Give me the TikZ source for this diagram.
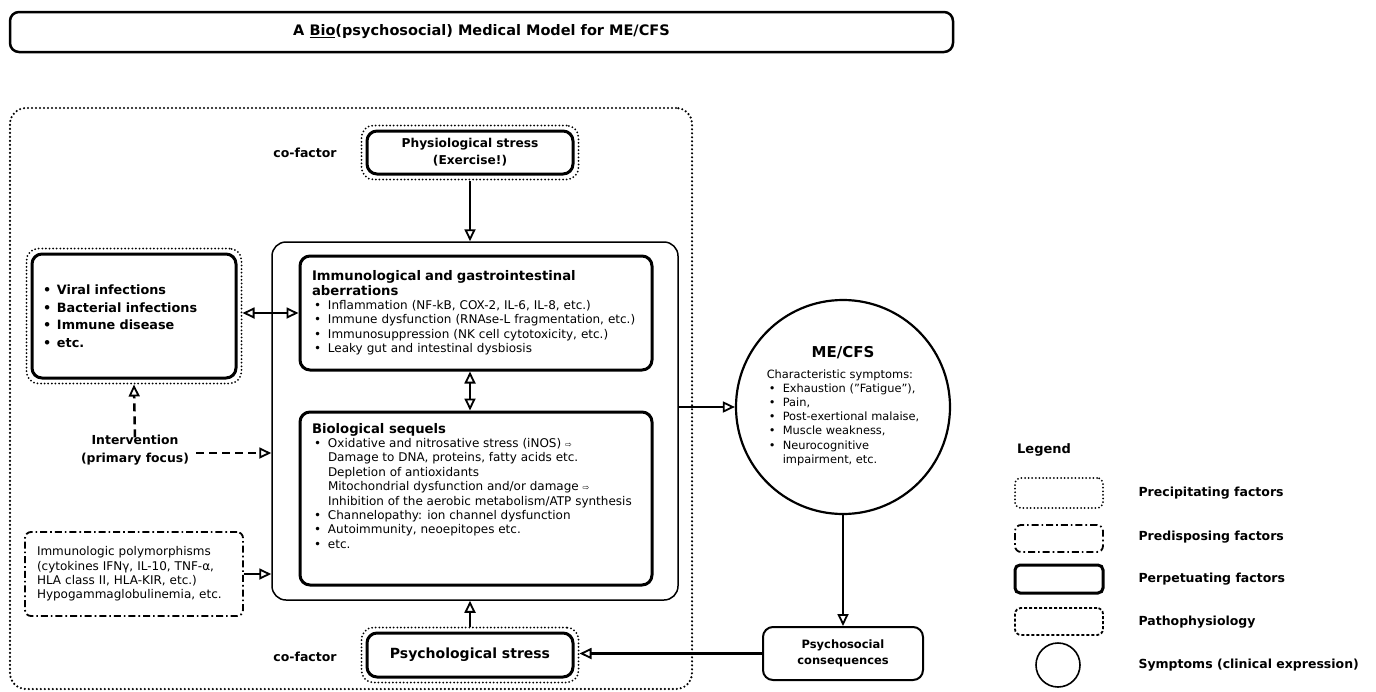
\documentclass[tikz,border=0pt]{standalone}
\usepackage{fontspec}
\setmainfont{DejaVu Sans}
\usetikzlibrary{arrows.meta,shapes,positioning,fit,calc}
\newcommand\bul{\makebox[16pt][l]{\hspace{2pt}\textbullet}}
\newcommand\ind{\hspace*{16pt}}
\newcommand\hollow{{\footnotesize ⇨}}
\tikzset{
  txt/.style={font=\fontsize{12}{14.4}\selectfont},
  head/.style={font=\fontsize{12.5}{17}\selectfont\bfseries},
  perp/.style={draw,line width=3pt,rounded corners=10pt,align=left},
  precip/.style={draw,line width=2pt,line cap=round,dash pattern=on 0pt off 3.6pt,rounded corners=12pt,inner sep=4pt},
  predisp/.style={draw,line width=1.8pt,dash pattern=on 7pt off 3pt on 1.6pt off 3pt,rounded corners=6pt},
  patho/.style={draw,line width=1.8pt,dash pattern=on 3pt off 2pt,rounded corners=6pt},
  flow/.style={line width=2.5pt,-{Triangle[open,length=12pt,width=11pt,line width=1.8pt]}},
  both/.style={line width=2.5pt,{Triangle[open,length=12pt,width=11pt,line width=1.8pt]}-{Triangle[open,length=12pt,width=11pt,line width=1.8pt]}},
  interv/.style={flow,dash pattern=on 8pt off 5pt},
}
\begin{document}
\begin{tikzpicture}[x=1pt,y=-1pt]
\useasboundingbox (0,0) rectangle (1376,691);
\path (481.5,32) node(title)[draw,line width=2.5pt,rounded corners=9pt,minimum width=943pt,minimum height=40pt,font=\fontsize{14.5}{17}\selectfont\bfseries] {A \underline{Bio}(psychosocial) Medical Model for ME/CFS};
\path (351,398.5) node(outer)[precip,line width=2.4pt,dash pattern=on 0pt off 4pt,minimum width=682pt,minimum height=581pt,rounded corners=16pt] {};
\path (470,152.5) node(phys)[perp,align=center,minimum width=206pt,minimum height=43pt,font=\fontsize{12.2}{17}\selectfont\bfseries] {Physiological stress\\(Exercise!)};
\path node(physout)[precip,fit=(phys)] {};
\path (305,153) node(cof1)[head] {co-factor};
\path (475,421) node(mid)[draw,line width=1.5pt,rounded corners=14pt,minimum width=406pt,minimum height=358pt] {};
\path (476,313) node(immuno)[perp,txt,inner xsep=12pt,text width=328pt,minimum height=114pt] {{\fontsize{13.2}{15}\selectfont\bfseries Immunological and gastrointestinal\\aberrations}\\
\bul Inflammation (NF-kB, COX-2, IL-6, IL-8, etc.)\\
\bul Immune dysfunction (RNAse-L fragmentation, etc.)\\
\bul Immunosuppression (NK cell cytotoxicity, etc.)\\
\bul Leaky gut and intestinal dysbiosis};
\path (476,498.5) node(bio)[perp,txt,inner xsep=12pt,inner ysep=7pt] {\begin{minipage}[t][159pt][t]{328pt}\vspace*{4pt}{\fontsize{13.2}{15}\selectfont\bfseries Biological sequels}\\
\bul Oxidative and nitrosative stress (iNOS) \hollow\\
\ind Damage to DNA, proteins, fatty acids etc.\\
\ind Depletion of antioxidants\\
\ind Mitochondrial dysfunction and/or damage \hollow\\
\ind Inhibition of the aerobic metabolism/ATP synthesis\\
\bul Channelopathy: ion channel dysfunction\\
\bul Autoimmunity, neoepitopes etc.\\
\bul etc.\end{minipage}};
\path (134,316) node(viral)[perp,inner xsep=9pt,text width=186pt,minimum height=124pt,font=\fontsize{12.8}{17.5}\selectfont\bfseries] {\bul Viral infections\\\bul Bacterial infections\\\bul Immune disease\\\bul etc.};
\path node(viralout)[precip,fit=(viral)] {};
\path (135,450) node(interv)[align=center,font=\fontsize{12.4}{18}\selectfont\bfseries] {Intervention\\(primary focus)};
\path (134,574) node(poly)[predisp,txt,align=left,inner xsep=12pt,text width=194pt,minimum height=84pt] {Immunologic polymorphisms\\(cytokines IFNγ, IL-10, TNF-α,\\HLA class II, HLA-KIR, etc.)\\Hypogammaglobulinemia, etc.};
\path (470,655) node(psych)[perp,align=center,minimum width=206pt,minimum height=44pt,font=\fontsize{14}{17}\selectfont\bfseries] {Psychological stress};
\path node(psychout)[precip,fit=(psych)] {};
\path (305,657) node(cof2)[head] {co-factor};
\path (843,407) node(me)[draw,circle,line width=2.2pt,minimum size=214pt,align=center,font=\fontsize{11.4}{14.2}\selectfont] {{\fontsize{15}{18}\selectfont\bfseries ME/CFS}\\[8pt]
\begin{tabular}{@{}l@{}}Characteristic symptoms:\\
\bul Exhaustion ("Fatigue"),\\
\bul Pain,\\
\bul Post-exertional malaise,\\
\bul Muscle weakness,\\
\bul Neurocognitive\\
\ind impairment, etc.\end{tabular}};
\path (843,653.5) node(psoc)[draw,line width=2pt,rounded corners=10pt,minimum width=160pt,minimum height=53pt,align=center,font=\fontsize{11.5}{16}\selectfont\bfseries] {Psychosocial\\consequences};
\draw[flow] (physout.south) -- (physout.south |- mid.north);
\draw[both] (immuno.west -| viralout.east) -- (immuno.west);
\draw[both] ([xshift=-6pt]immuno.south) -- ([xshift=-6pt]bio.north);
\draw[interv] ([yshift=-6pt]interv.north) -- (viralout.south);
\draw[interv] ([xshift=4pt,yshift=-3pt]interv.east) -- ([yshift=-3pt]interv.east -| mid.west);
\draw[flow] (poly.east) -- (poly.east -| mid.west);
\draw[flow] (psychout.north) -- (psychout.north |- mid.south);
\draw[flow] (me.west -| mid.east) -- (me.west);
\draw[flow] (me.south) -- (psoc.north);
\draw[flow] (psoc.west) -- (psoc.west -| psychout.east);
\path (1017,450) node(legend)[anchor=west,inner sep=0pt,font=\fontsize{13}{16}\selectfont\bfseries] {Legend};
\path (1059,493) node(lg1)[precip,minimum width=88pt,minimum height=30pt,inner sep=0pt,rounded corners=6pt] {};
\path (1059,538.5) node(lg2)[predisp,minimum width=88pt,minimum height=27pt] {};
\path (1059,579) node(lg3)[draw,line width=3pt,rounded corners=5pt,minimum width=88pt,minimum height=28pt] {};
\path (1059,621.5) node(lg4)[patho,minimum width=88pt,minimum height=27pt] {};
\path (1058,665) node(lg5)[draw,circle,line width=1.6pt,minimum size=44pt] {};
\path (1135,493) node(lt1)[anchor=west,head] {Precipitating factors};
\path (1135,537) node(lt2)[anchor=west,head] {Predisposing factors};
\path (1135,579) node(lt3)[anchor=west,head] {Perpetuating factors};
\path (1135,622) node(lt4)[anchor=west,head] {Pathophysiology};
\path (1135,665) node(lt5)[anchor=west,head] {Symptoms (clinical expression)};
\end{tikzpicture}
\end{document}
